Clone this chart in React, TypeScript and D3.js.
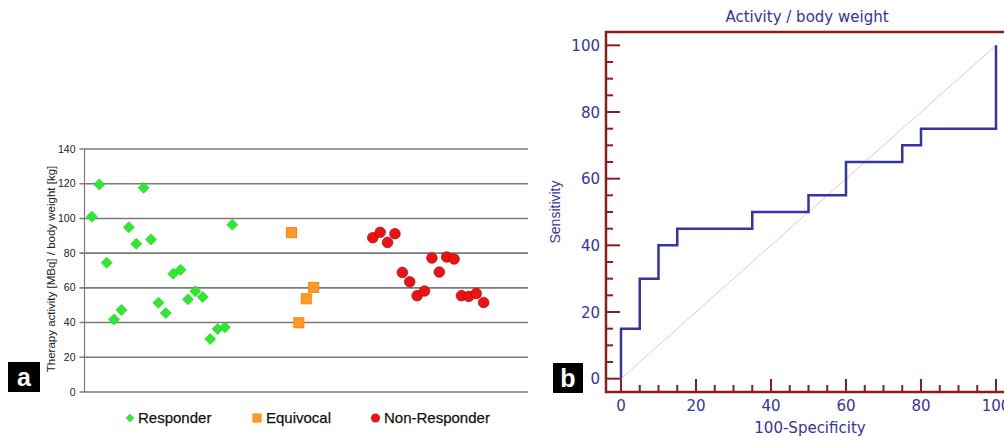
import React, { useEffect, useRef } from 'react';
import * as d3 from 'd3';

// panel a: therapy activity per body weight, one value per patient
const responders = [101, 119.6, 74.5, 41.8, 47.2, 94.9, 85.4, 117.7, 87.9, 51.4, 45.5, 68.1, 70.4, 53.4, 58, 54.7, 30.5, 36.3, 37.3, 96.4];
const equivocal = [91.8, 39.9, 53.7, 60.3];
const nonResponders = [88.9, 92, 86.2, 91.2, 68.9, 63.5, 55.5, 58.2, 77.2, 69.1, 77.8, 76.6, 55.5, 55.1, 56.8, 51.6];
const groupStart = [1, 28, 39];
const yTicksA = [0, 20, 40, 60, 80, 100, 120, 140];

// panel b: ROC curve steps
const specComp = [0, 0, 5, 5, 10, 10, 15, 15, 35, 35, 50, 50, 60, 60, 75, 75, 80, 80, 100, 100];
const sensitivity = [0, 15, 15, 30, 30, 40, 40, 45, 45, 50, 50, 55, 55, 65, 65, 70, 70, 75, 75, 100];
const majorTicksB = [0, 20, 40, 60, 80, 100];
const minorTicksB = d3.range(5, 100, 5).filter(v => v % 20 !== 0);

const App = () => {
  const ref = useRef<SVGSVGElement>(null);

  useEffect(() => {
    document.body.style.margin = '0';
    const svg = d3.select(ref.current);
    svg.selectAll('*').remove();

    // ---------- panel a ----------
    const xa = d3.scaleLinear().domain([0, 60]).range([84.5, 528]);
    const ya = d3.scaleLinear().domain([0, 140]).range([392, 149]);
    const ga = svg.append('g');
    const narrow = 'Liberation Sans Narrow, Arial Narrow, Liberation Sans, Arial, sans-serif';

    ga.selectAll('line.grid').data(yTicksA).enter().append('line')
      .attr('x1', xa(0) - 5).attr('x2', xa(60))
      .attr('y1', d => ya(d)).attr('y2', d => ya(d))
      .attr('stroke', '#7a7a7a').attr('stroke-width', 1.6);
    ga.append('line').attr('x1', xa(0)).attr('x2', xa(0)).attr('y1', ya(140)).attr('y2', ya(0))
      .attr('stroke', '#7a7a7a').attr('stroke-width', 1.2);
    ga.selectAll('text.yt').data(yTicksA).enter().append('text')
      .attr('x', xa(0) - 9).attr('y', d => ya(d) + 3.5)
      .attr('text-anchor', 'end').attr('font-family', narrow).attr('font-size', 10.5)
      .attr('fill', '#222').text(d => d);
    ga.append('text').attr('transform', `translate(55,269) rotate(-90)`)
      .attr('text-anchor', 'middle').attr('font-family', narrow).attr('font-size', 11.5)
      .attr('fill', '#222').text('Therapy activity [MBq] / body weight [kg]');

    const diamond = d3.symbol().type(d3.symbolSquare).size(60);
    ga.selectAll('path.resp').data(responders).enter().append('path')
      .attr('d', diamond)
      .attr('transform', (d, i) => `translate(${xa(groupStart[0] + i)},${ya(d)}) rotate(45)`)
      .attr('fill', '#2cea2c').attr('stroke', '#22cc22').attr('stroke-width', 0.6);
    ga.selectAll('rect.eq').data(equivocal).enter().append('rect')
      .attr('x', (d, i) => xa(groupStart[1] + i) - 5).attr('y', d => ya(d) - 5)
      .attr('width', 10).attr('height', 10)
      .attr('fill', '#ff9a2a').attr('stroke', '#ff8400').attr('stroke-width', 1);
    ga.selectAll('circle.nr').data(nonResponders).enter().append('circle')
      .attr('cx', (d, i) => xa(groupStart[2] + i)).attr('cy', d => ya(d)).attr('r', 5.3)
      .attr('fill', '#ee1111').attr('stroke', '#991111').attr('stroke-width', 0.7);

    // legend
    const lg = ga.append('g').attr('font-family', 'Liberation Sans, Arial, sans-serif')
      .attr('font-size', 15).attr('fill', '#111').attr('stroke', '#111').attr('stroke-width', 0.25);
    lg.append('path').attr('d', d3.symbol().type(d3.symbolSquare).size(36))
      .attr('transform', 'translate(130,418) rotate(45)').attr('fill', '#2cea2c').attr('stroke', 'none');
    lg.append('text').attr('x', 138).attr('y', 423).text('Responder');
    lg.append('rect').attr('x', 253).attr('y', 414).attr('width', 8).attr('height', 8)
      .attr('fill', '#ff9a2a').attr('stroke', '#ff8400').attr('stroke-width', 1);
    lg.append('text').attr('x', 266).attr('y', 423).text('Equivocal');
    lg.append('circle').attr('cx', 375.5).attr('cy', 418).attr('r', 4.5).attr('fill', '#ee1111').attr('stroke', 'none');
    lg.append('text').attr('x', 384).attr('y', 423).text('Non-Responder');

    // label a
    ga.append('rect').attr('x', 8).attr('y', 362).attr('width', 32).attr('height', 30).attr('fill', '#000');
    ga.append('text').attr('x', 24).attr('y', 386).attr('text-anchor', 'middle')
      .attr('font-family', 'Liberation Sans, Arial, sans-serif').attr('font-weight', 'bold')
      .attr('font-size', 25).attr('fill', '#fff').text('a');

    // ---------- panel b ----------
    const xb = d3.scaleLinear().domain([-4, 104]).range([606, 1011]);
    const yb = d3.scaleLinear().domain([-4, 104]).range([392, 32]);
    const gb = svg.append('g');
    const blue = '#3434a4';
    const red = '#8e1c1c';
    const sans = 'Liberation Sans, Arial, sans-serif';
    const wide = 'DejaVu Sans, Verdana, sans-serif';

    gb.append('line').attr('x1', xb(0)).attr('y1', yb(0)).attr('x2', xb(100)).attr('y2', yb(100))
      .attr('stroke', '#f4c4c4').attr('stroke-width', 1);

    const line = d3.line<number>().x(d => xb(d)).y((d, i) => yb(sensitivity[i]));
    gb.append('path').datum(specComp).attr('d', line)
      .attr('fill', 'none').attr('stroke', blue).attr('stroke-width', 2.5);

    gb.append('rect').attr('x', xb(-4)).attr('y', yb(104)).attr('width', xb(104) - xb(-4))
      .attr('height', yb(-4) - yb(104)).attr('fill', 'none').attr('stroke', red).attr('stroke-width', 2.5);

    gb.selectAll('line.ymaj').data(majorTicksB).enter().append('line')
      .attr('x1', xb(-4)).attr('x2', xb(-4) + 14).attr('y1', d => yb(d)).attr('y2', d => yb(d))
      .attr('stroke', red).attr('stroke-width', 2);
    gb.selectAll('line.ymin').data(minorTicksB).enter().append('line')
      .attr('x1', xb(-4)).attr('x2', xb(-4) + 7).attr('y1', d => yb(d)).attr('y2', d => yb(d))
      .attr('stroke', red).attr('stroke-width', 2);
    gb.selectAll('line.xmaj').data(majorTicksB).enter().append('line')
      .attr('x1', d => xb(d)).attr('x2', d => xb(d)).attr('y1', yb(-4)).attr('y2', yb(-4) - 13)
      .attr('stroke', red).attr('stroke-width', 2);
    gb.selectAll('line.xmin').data(minorTicksB).enter().append('line')
      .attr('x1', d => xb(d)).attr('x2', d => xb(d)).attr('y1', yb(-4)).attr('y2', yb(-4) - 7)
      .attr('stroke', red).attr('stroke-width', 2);

    gb.selectAll('text.yl').data(majorTicksB).enter().append('text')
      .attr('x', 600).attr('y', d => yb(d) + 5.5).attr('text-anchor', 'end')
      .attr('font-family', wide).attr('font-size', 15).attr('fill', blue).text(d => d);
    gb.selectAll('text.xl').data(majorTicksB).enter().append('text')
      .attr('x', d => xb(d)).attr('y', 411).attr('text-anchor', 'middle')
      .attr('font-family', wide).attr('font-size', 15).attr('fill', blue).text(d => d);

    gb.append('text').attr('x', 807).attr('y', 22).attr('text-anchor', 'middle')
      .attr('font-family', wide).attr('font-size', 15).attr('fill', blue).text('Activity / body weight');
    gb.append('text').attr('x', 810).attr('y', 433).attr('text-anchor', 'middle')
      .attr('font-family', wide).attr('font-size', 15).attr('fill', blue).text('100-Specificity');
    gb.append('text').attr('transform', 'translate(560,212) rotate(-90)').attr('text-anchor', 'middle')
      .attr('font-family', sans).attr('font-size', 14).attr('fill', blue).text('Sensitivity');

    gb.append('rect').attr('x', 553).attr('y', 363).attr('width', 30).attr('height', 30).attr('fill', '#000');
    gb.append('text').attr('x', 568).attr('y', 387).attr('text-anchor', 'middle')
      .attr('font-family', sans).attr('font-weight', 'bold').attr('font-size', 25)
      .attr('fill', '#fff').text('b');
  }, []);

  return (
    <div style={{ position: 'absolute', left: 0, top: 0 }}>
      <svg ref={ref} width={1004} height={437} style={{ display: 'block', background: '#fff' }} />
    </div>
  );
};

export default App;
